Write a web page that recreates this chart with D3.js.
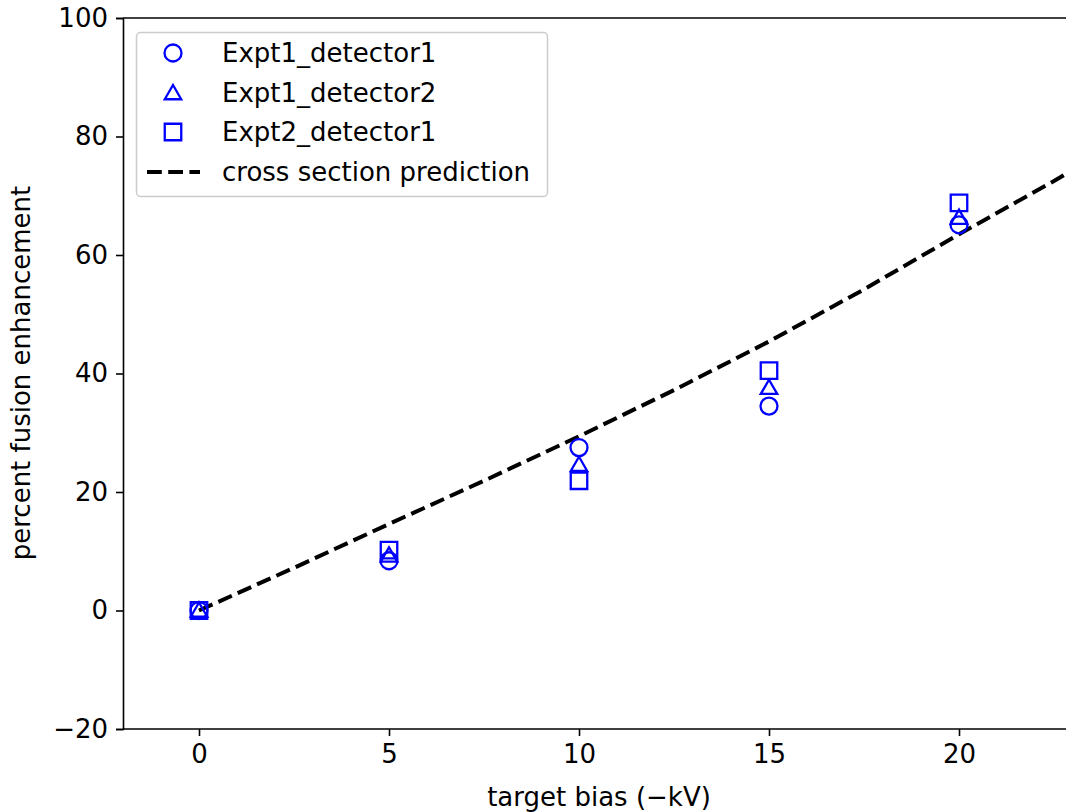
<!DOCTYPE html>
<html>
<head>
<meta charset="utf-8">
<script src="https://cdnjs.cloudflare.com/ajax/libs/d3/7.8.5/d3.min.js"></script>
<style>
  html, body { margin: 0; padding: 0; background: #fff; }
  svg { display: block; font-family: "DejaVu Sans", sans-serif; }
</style>
</head>
<body>
<svg id="chart" width="1066" height="812"></svg>
<script>
// bias values (-kV) where each detector was read
const bias = [0, 5, 10, 15, 20]
const expt1Det1 = [0, 8.4, 27.5, 34.5, 65.1]
const expt1Det2 = [0, 9.3, 24.6, 37.6, 66.3]
const expt2Det1 = [0, 10.2, 21.9, 40.5, 68.8]

// cross section prediction
const predBias = [0, 2.5, 5, 7.5, 10, 12.5, 15, 17.5, 20, 22.5, 23]
const predVals = [0, 7.2, 14.6, 21.9, 29.4, 37.2, 45.4, 54.2, 63.5, 72.5, 74.4]

const xTicks = [0, 5, 10, 15, 20]
const yTicks = [-20, 0, 20, 40, 60, 80, 100]

const svg = d3.select('#chart')

const x = d3.scaleLinear().domain([-2, 23]).range([123, 1073])
const y = d3.scaleLinear().domain([-20, 100]).range([729, 18])

const blue = '#0000ff'
const fs = 26

// spines
svg.append('line').attr('x1', 123).attr('x2', 1066).attr('y1', 18).attr('y2', 18)
    .attr('stroke', '#000').attr('stroke-width', 1.6)

const xAxis = svg.append('g')
    .attr('transform', `translate(0,${y(-20)})`)
    .call(d3.axisBottom(x).tickValues(xTicks).tickSize(7).tickPadding(9).tickFormat(d3.format('d')))
xAxis.select('.domain').attr('d', `M${x(-2)},0H1066`).attr('stroke-width', 1.6)

const yAxis = svg.append('g')
    .attr('transform', `translate(${x(-2)},0)`)
    .call(d3.axisLeft(y).tickValues(yTicks).tickSize(7).tickPadding(8)
        .tickFormat(d => d < 0 ? '\u2212' + Math.abs(d) : d))
yAxis.select('.domain').attr('stroke-width', 1.6)

svg.selectAll('.tick line').attr('stroke-width', 1.6)
svg.selectAll('.tick text').attr('font-size', fs).attr('fill', '#000')
    .attr('font-family', '"DejaVu Sans", sans-serif')

// axis labels
svg.append('text').attr('x', 599).attr('y', 806).attr('text-anchor', 'middle')
    .attr('font-size', fs).text('target bias (\u2212kV)')
svg.append('text').attr('transform', 'translate(30,373) rotate(-90)')
    .attr('text-anchor', 'middle').attr('font-size', fs).text('percent fusion enhancement')

// prediction curve
const line = d3.line().x(d => x(d[0])).y(d => y(d[1]))
svg.append('path')
    .datum(predBias.map((b, i) => [b, predVals[i]]))
    .attr('d', line)
    .attr('fill', 'none').attr('stroke', '#000')
    .attr('stroke-width', 4).attr('stroke-dasharray', '14.8,6.4')

// markers
const circle = d3.symbol().type(d3.symbolCircle).size(Math.PI * 8.5 * 8.5)
const square = d3.symbol().type(d3.symbolSquare).size(16.5 * 16.5)
const tri = (cx, cy) => {
    const r = 9.5
    return `M${cx},${cy - r}L${cx + r * 0.866},${cy + r / 2}L${cx - r * 0.866},${cy + r / 2}Z`
}

const series = [
    { name: 'Expt1_detector1', vals: expt1Det1, kind: 'circle' },
    { name: 'Expt1_detector2', vals: expt1Det2, kind: 'triangle' },
    { name: 'Expt2_detector1', vals: expt2Det1, kind: 'square' }
]

const drawMarker = (g, kind, cx, cy) => {
    const p = g.append('path')
        .attr('fill', 'none').attr('stroke', blue).attr('stroke-width', 2.3)
    if (kind === 'triangle') p.attr('d', tri(cx, cy + 1.5))
    else p.attr('d', (kind === 'circle' ? circle : square)())
        .attr('transform', `translate(${cx},${cy})`)
}

series.forEach(s => {
    const g = svg.append('g')
    s.vals.forEach((v, i) => drawMarker(g, s.kind, x(bias[i]), y(v)))
})

// legend
const legend = svg.append('g')
legend.append('rect').attr('x', 136.5).attr('y', 32.5).attr('width', 411).attr('height', 164)
    .attr('rx', 4).attr('fill', '#fff').attr('fill-opacity', 0.8)
    .attr('stroke', '#cccccc').attr('stroke-width', 1.5)

const rowY = [53, 93, 132, 172]
series.forEach((s, i) => {
    drawMarker(legend, s.kind, 173, rowY[i])
    legend.append('text').attr('x', 222).attr('y', rowY[i]).attr('dy', '0.36em')
        .attr('font-size', fs).text(s.name)
})
legend.append('line').attr('x1', 147).attr('x2', 200).attr('y1', rowY[3]).attr('y2', rowY[3])
    .attr('stroke', '#000').attr('stroke-width', 4).attr('stroke-dasharray', '14.8,6.4')
legend.append('text').attr('x', 222).attr('y', rowY[3]).attr('dy', '0.36em')
    .attr('font-size', fs).text('cross section prediction')
</script>
</body>
</html>
